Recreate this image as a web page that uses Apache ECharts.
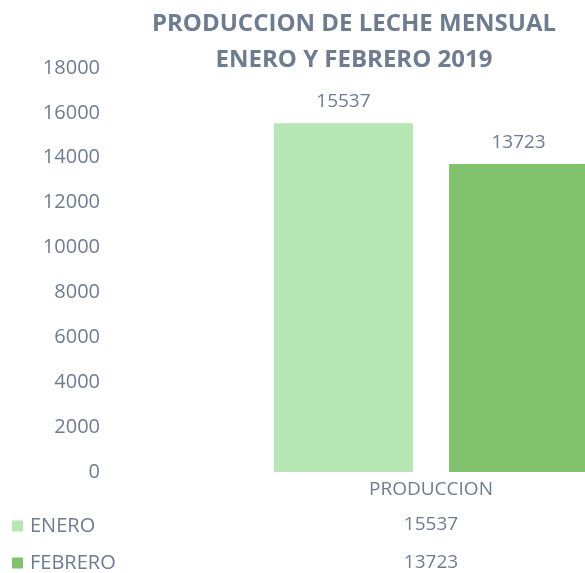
<!DOCTYPE html>
<html>
<head>
<meta charset="utf-8">
<script src="https://cdn.jsdelivr.net/npm/echarts@6/dist/echarts.min.js"></script>
<style>
  html, body { margin: 0; padding: 0; background: #fff; }
  #chart { width: 585px; height: 573px; }
</style>
</head>
<body>
<div id="chart"></div>
<script>
  // datos
  var categorias = ['PRODUCCION'];
  var meses = ['ENERO', 'FEBRERO'];
  var enero = [15537];
  var febrero = [13723];
  var colores = ['#b6e6b4', '#80c36c'];
  var textColor = '#6f7c90';
  var fs = 19;

  var myChart = echarts.init(document.getElementById('chart'));

  myChart.setOption({
    backgroundColor: '#ffffff',
    animation: false,
    title: {
      text: 'PRODUCCION DE LECHE MENSUAL\nENERO Y FEBRERO 2019',
      left: 349,
      top: 1,
      textAlign: 'center',
      textStyle: {
        color: textColor,
        fontFamily: 'Open Sans',
        fontWeight: 'bold',
        fontSize: 24,
        lineHeight: 36
      }
    },
    legend: {
      orient: 'vertical',
      left: 12,
      top: 516,
      height: 70,
      padding: 0,
      itemGap: 17,
      itemWidth: 11,
      itemHeight: 11,
      icon: 'rect',
      data: meses,
      textStyle: { color: textColor, fontSize: 20, fontFamily: 'Open Sans', padding: [0, 0, 0, 2] }
    },
    grid: {
      left: 110,
      right: -167,
      top: 68,
      bottom: 101,
      outerBoundsMode: 'none'
    },
    xAxis: {
      type: 'category',
      data: categorias,
      axisLine: { show: false },
      axisTick: { show: false },
      axisLabel: {
        color: textColor,
        fontSize: fs,
        fontFamily: 'Open Sans',
        margin: 8
      }
    },
    yAxis: {
      type: 'value',
      min: 0,
      max: 18000,
      interval: 2000,
      splitLine: { show: false },
      axisLine: { show: false },
      axisTick: { show: false },
      axisLabel: {
        color: textColor,
        fontSize: 20,
        fontFamily: 'Open Sans',
        margin: 10,
        formatter: function (v) { return String(v); }
      }
    },
    series: [
      {
        name: meses[0],
        type: 'bar',
        barWidth: 139,
        barGap: '26%',
        itemStyle: { color: colores[0] },
        label: {
          show: true,
          position: 'top',
          distance: 12,
          color: textColor,
          fontSize: fs,
          fontFamily: 'Open Sans'
        },
        data: enero
      },
      {
        name: meses[1],
        type: 'bar',
        barWidth: 139,
        itemStyle: { color: colores[1] },
        label: {
          show: true,
          position: 'top',
          distance: 12,
          color: textColor,
          fontSize: fs,
          fontFamily: 'Open Sans'
        },
        data: febrero
      }
    ]
  });

  // tabla de datos debajo del eje
  var xCentro = myChart.convertToPixel({ xAxisIndex: 0 }, categorias[0]);
  var valores = [enero[0], febrero[0]];
  myChart.setOption({
    graphic: valores.map(function (v, i) {
      return {
        type: 'text',
        x: xCentro,
        y: 525 + i * 38,
        style: {
          text: String(v),
          fill: textColor,
          fontSize: fs,
          fontFamily: 'Open Sans',
          textAlign: 'center',
          textVerticalAlign: 'middle'
        }
      };
    })
  });
</script>
</body>
</html>
